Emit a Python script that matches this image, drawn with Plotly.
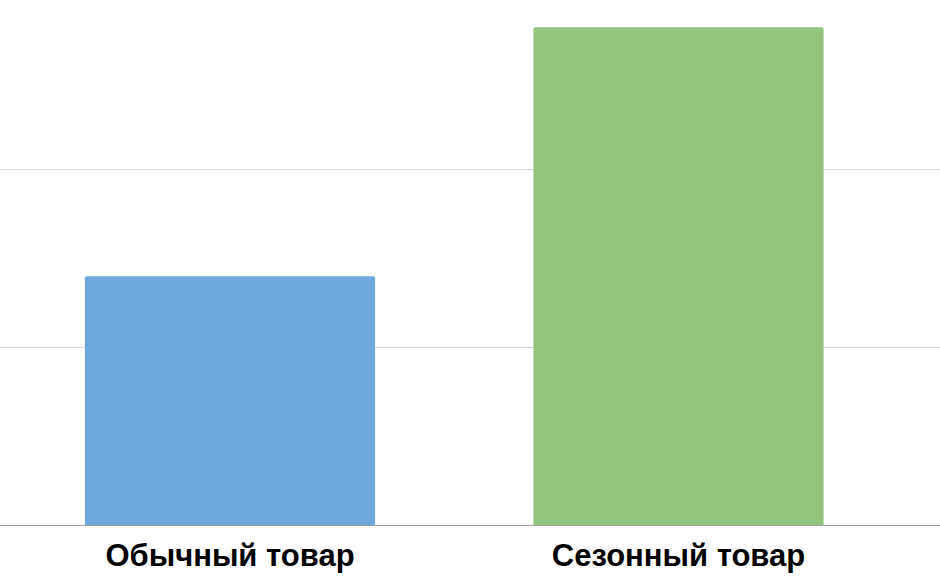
import plotly.graph_objects as go

categories = ["Обычный товар", "Сезонный товар"]
values = [14, 28]
colors = ["#6fa8dc", "#93c47d"]

fig = go.Figure()
fig.add_trace(go.Bar(
    x=categories,
    y=values,
    marker=dict(color=colors, line=dict(width=0), cornerradius=2),
    width=0.647,
    hoverinfo="skip",
))

fig.update_layout(
    width=940,
    height=584,
    margin=dict(l=0, r=0, t=0, b=59),
    paper_bgcolor="white",
    plot_bgcolor="white",
    showlegend=False,
    font=dict(family="Liberation Sans, Arial, sans-serif"),
)
fig.update_xaxes(
    range=[-0.5128, 1.583],
    showline=True,
    linecolor="#9e9e9e",
    linewidth=1,
    showgrid=False,
    ticks="",
    tickfont=dict(size=31, color="#000000", weight="bold"),
    ticklabelstandoff=3,
)
fig.update_yaxes(
    range=[0, 29.54],
    dtick=10,
    showgrid=True,
    gridcolor="#d9d9d9",
    gridwidth=1,
    showticklabels=False,
    zeroline=False,
    ticks="",
)

fig.write_html(
    "out.html",
    config={"displayModeBar": False, "staticPlot": True},
    post_script="document.body.style.margin='0';document.body.style.overflow='hidden';",
)
